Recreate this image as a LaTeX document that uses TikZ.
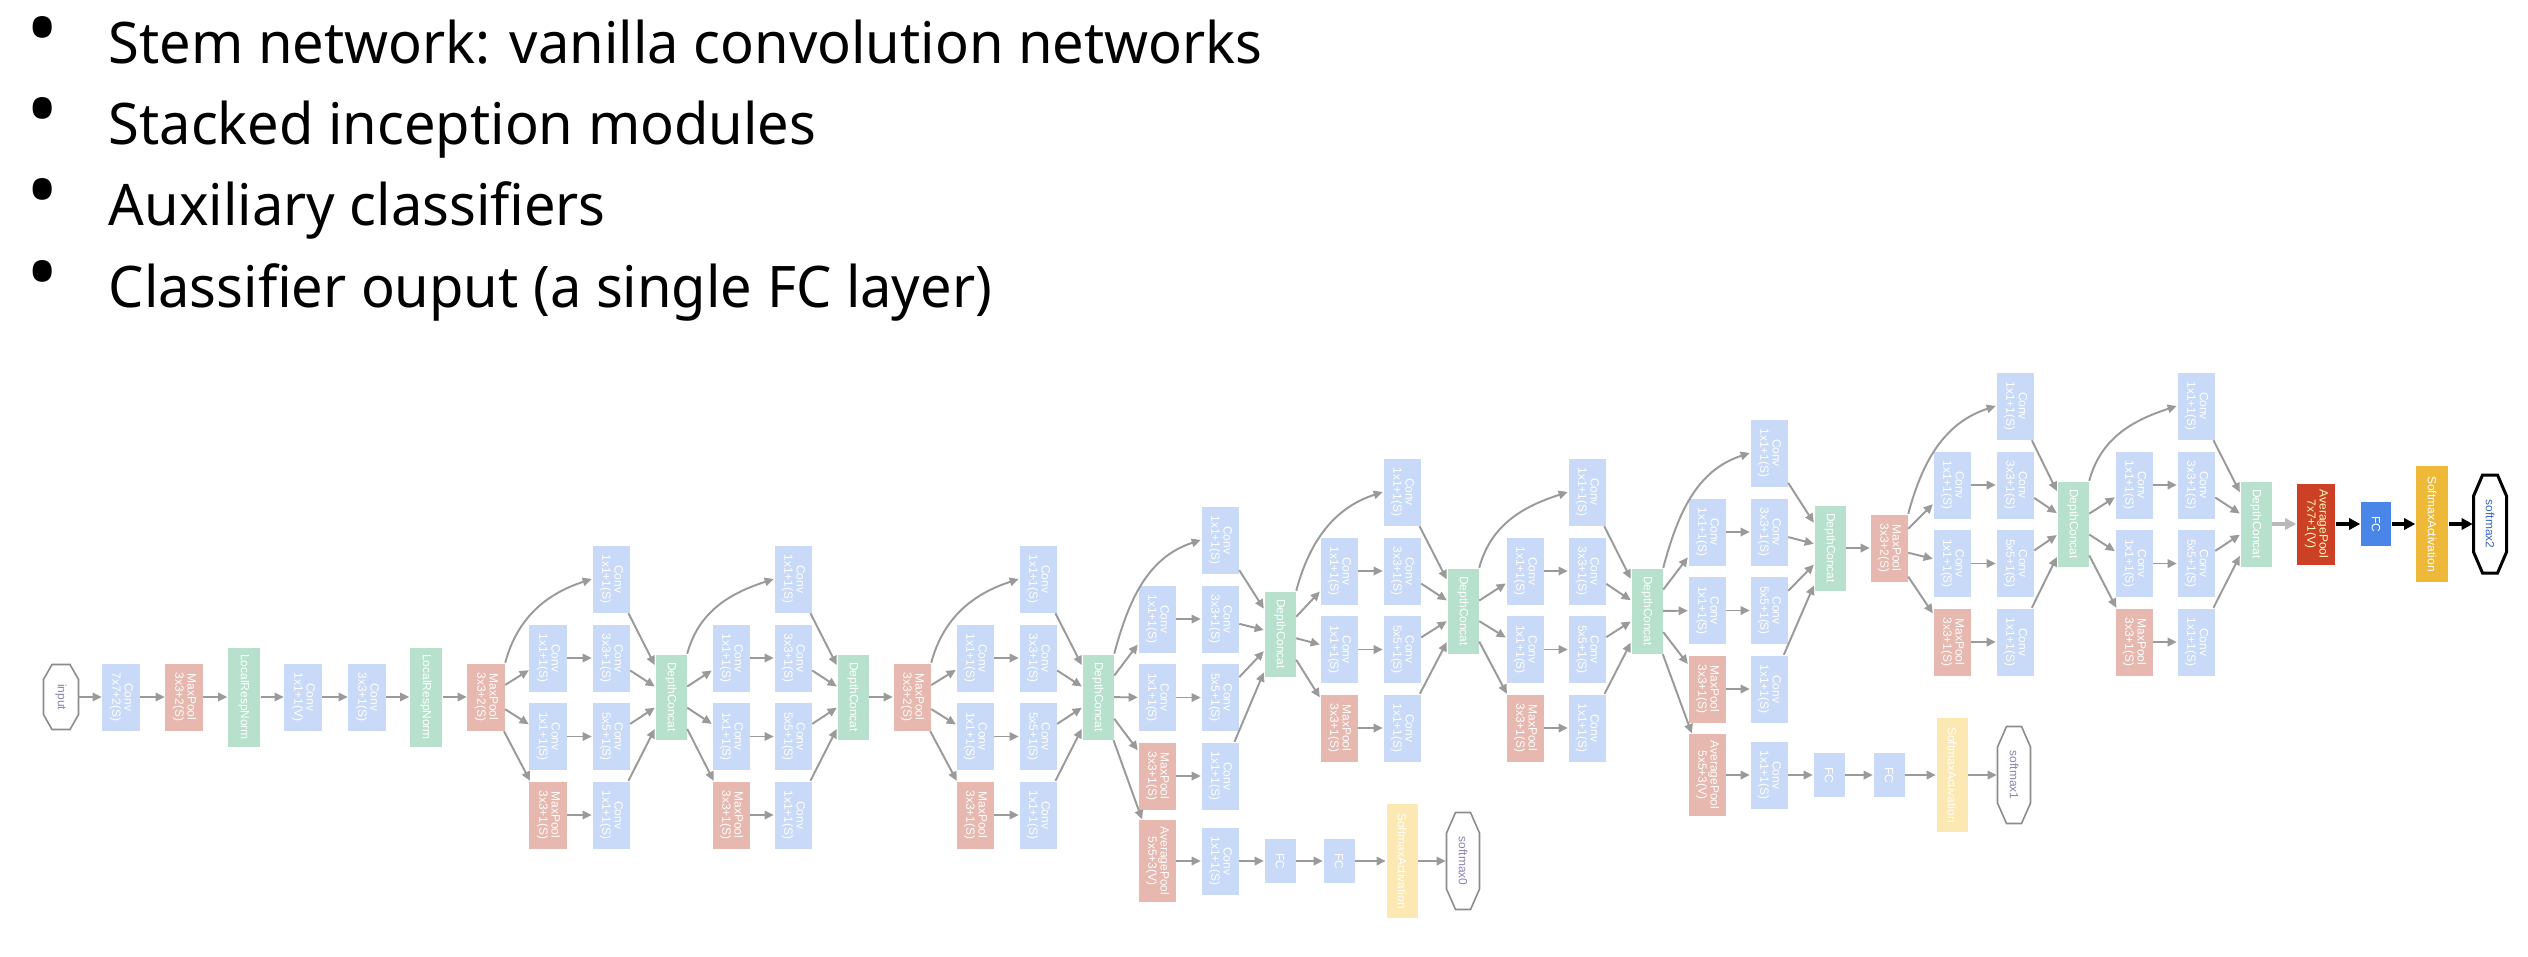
\documentclass[tikz,border=0pt]{standalone}
\usepackage{fontspec}
\usepackage{graphicx}
\setmainfont{Noto Sans}
\newfontfamily\titlefont[FakeStretch=0.977]{Noto Sans}
\newfontfamily\lblfont{Liberation Sans}
\usetikzlibrary{arrows.meta}
\definecolor{cblue}{HTML}{C9DAF8}
\definecolor{cred}{HTML}{E6B8AF}
\definecolor{cgreen}{HTML}{B7E1CD}
\definecolor{cyellow}{HTML}{FCE8B2}
\definecolor{dred}{HTML}{CC4125}
\definecolor{dblue}{HTML}{4A86E8}
\definecolor{dyellow}{HTML}{EEB838}
\definecolor{egray}{HTML}{9A9A9A}
\definecolor{octgray}{HTML}{8C8C8C}
\definecolor{octtext}{HTML}{8F80B0}
\definecolor{octtextd}{HTML}{3A66C4}
\newcommand\bxfont{\lblfont\fontsize{3.4}{3.5}\selectfont}
\newcommand\lbl[2]{\rotatebox{-90}{\begin{tabular}{@{}c@{}}#1\\#2\end{tabular}}}
\newcommand\lbo[1]{\rotatebox{-90}{#1}}
\newcommand\octdraw[6]{\draw[#6,shift={(#1.center)}] ({-#4},{-#3}) -- ({#4},{-#3}) -- ({#2},{-#5}) -- ({#2},{#5}) -- ({#4},{#3}) -- ({-#4},{#3}) -- ({-#2},{#5}) -- ({-#2},{-#5}) -- cycle;}
% inception module: #1 prefix, #2 input node, #3 col1 x, #4 col2 x, #5 concat x, #6 concat y, #7 second row y
\newcommand\mkincep[7]{%
 \node[convb] (#1t) at ({#4},{#7-79}) {\lbl{Conv}{1x1+1(S)}};
 \node[convb] (#1a) at ({#3},{#7}) {\lbl{Conv}{1x1+1(S)}};
 \node[convb] (#1b) at ({#4},{#7}) {\lbl{Conv}{3x3+1(S)}};
 \node[convb] (#1c) at ({#3},{#7+78.5}) {\lbl{Conv}{1x1+1(S)}};
 \node[convb] (#1d) at ({#4},{#7+78.5}) {\lbl{Conv}{5x5+1(S)}};
 \node[poolb] (#1e) at ({#3},{#7+157}) {\lbl{MaxPool}{3x3+1(S)}};
 \node[convb] (#1f) at ({#4},{#7+157}) {\lbl{Conv}{1x1+1(S)}};
 \node[dcb] (#1dc) at ({#5},{#6}) {\lbo{DepthConcat}};
 \draw[e] (#2.north east) to[out=75,in=198] (#1t.west);
 \draw[e] (#2) -- (#1a);
 \draw[e] (#2) -- (#1c);
 \draw[e] (#2) -- (#1e);
 \draw[e] (#1a) -- (#1b);
 \draw[e] (#1c) -- (#1d);
 \draw[e] (#1e) -- (#1f);
 \draw[e] (#1t) -- (#1dc);
 \draw[e] (#1b) -- (#1dc);
 \draw[e] (#1d) -- (#1dc);
 \draw[e] (#1f) -- (#1dc);
}
\begin{document}
\begin{tikzpicture}[x=0.01cm,y=-0.01cm,
  title/.style={font=\titlefont\fontsize{16.3}{19}\selectfont, inner sep=0pt, anchor=base west, text=black},
  bul/.style={font=\titlefont\fontsize{25}{25}\selectfont, inner sep=0pt, anchor=center, text=black},
  box/.style={inner sep=0pt, minimum width=0.37cm, minimum height=0.67cm, text=white, font=\bxfont},
  convb/.style={box, fill=cblue},
  poolb/.style={box, fill=cred},
  dcb/.style={box, fill=cgreen, minimum width=0.31cm, minimum height=0.85cm},
  lrnb/.style={box, fill=cgreen, minimum width=0.32cm, minimum height=0.99cm},
  avgb/.style={box, fill=cred, minimum height=0.82cm},
  fcb/.style={box, fill=cblue, minimum width=0.31cm, minimum height=0.44cm},
  smb/.style={box, fill=cyellow, minimum width=0.31cm, minimum height=1.14cm},
  avgd/.style={box, fill=dred, text=yellow!25, minimum width=0.38cm, minimum height=0.81cm},
  fcd/.style={box, fill=dblue, minimum width=0.30cm, minimum height=0.44cm},
  smd/.style={box, fill=dyellow, minimum width=0.32cm, minimum height=1.15cm},
  octin/.style={inner sep=0pt, minimum width=0.35cm, minimum height=0.65cm, font=\bxfont, text=octtext},
  octs/.style={inner sep=0pt, minimum width=0.33cm, minimum height=0.97cm, font=\bxfont, text=octtext},
  octf/.style={inner sep=0pt, minimum width=0.33cm, minimum height=0.98cm, font=\bxfont, text=octtextd},
  octl/.style={draw=octgray, line width=0.45pt},
  octlf/.style={draw=black, line width=0.85pt},
  e/.style={draw=egray, line width=0.55pt, -{Triangle[length=2.6pt,width=2.4pt]}},
  fe/.style={draw=black, line width=1.1pt, -{Triangle[length=3.2pt,width=3.2pt]}}
]
\fill[white] (0,0) rectangle (2528,956);
\useasboundingbox (0,0) rectangle (2528,956);

% bullet list
\node[bul] (b1) at (43,38) {•};
\node[title] (t1) at (108,63) {Stem network: vanilla convolution networks};
\node[bul] (b2) at (43,119) {•};
\node[title] (t2) at (108,144) {Stacked inception modules};
\node[bul] (b3) at (43,200) {•};
\node[title] (t3) at (108,225) {Auxiliary classifiers};
\node[bul] (b4) at (43,282) {•};
\node[title] (t4) at (108,307) {Classifier ouput (a single FC layer)};

% stem
\node[octin] (in) at (61,697) {\lbo{input}};
\octdraw{in}{17.5}{32.5}{9}{17.5}{octl}
\node[convb] (c1) at (121,697) {\lbl{Conv}{7x7+2(S)}};
\node[poolb] (p1) at (184,697) {\lbl{MaxPool}{3x3+2(S)}};
\node[lrnb] (n1) at (244,697) {\lbo{LocalRespNorm}};
\node[convb] (c2r) at (303,697) {\lbl{Conv}{1x1+1(V)}};
\node[convb] (c2) at (367,697) {\lbl{Conv}{3x3+1(S)}};
\node[lrnb] (n2) at (426,697) {\lbo{LocalRespNorm}};
\node[poolb] (p2) at (486,697) {\lbl{MaxPool}{3x3+2(S)}};
\draw[e] (in) -- (c1);
\draw[e] (c1) -- (p1);
\draw[e] (p1) -- (n1);
\draw[e] (n1) -- (c2r);
\draw[e] (c2r) -- (c2);
\draw[e] (c2) -- (n2);
\draw[e] (n2) -- (p2);

% inception 3a, 3b
\mkincep{ia}{p2}{548}{611}{671}{697}{658}
\mkincep{ib}{iadc}{731}{793}{853}{697}{658}
\node[poolb] (p3) at (912,697) {\lbl{MaxPool}{3x3+2(S)}};
\draw[e] (ibdc) -- (p3);

% inception 4a - 4e
\mkincep{ic}{p3}{975}{1038}{1098}{697}{658}
\mkincep{id}{icdc}{1157}{1220}{1280}{634}{619}

% auxiliary classifier 0
\node[avgb] (a0p) at (1157,861) {\lbl{AveragePool}{5x5+3(V)}};
\node[convb] (a0c) at (1220,861) {\lbl{Conv}{1x1+1(S)}};
\node[fcb] (a0f1) at (1280,861) {\lbo{FC}};
\node[fcb] (a0f2) at (1339,861) {\lbo{FC}};
\node[smb] (a0s) at (1402,861) {\lbo{SoftmaxActivation}};
\node[octs] (a0o) at (1463,861) {\lbo{softmax0}};
\octdraw{a0o}{16.5}{48.5}{7.5}{28}{octl}
\draw[e] (icdc) -- (a0p);
\draw[e] (a0p) -- (a0c);
\draw[e] (a0c) -- (a0f1);
\draw[e] (a0f1) -- (a0f2);
\draw[e] (a0f2) -- (a0s);
\draw[e] (a0s) -- (a0o);

\mkincep{ie}{iddc}{1339}{1402}{1463}{611}{571}
\mkincep{if}{iedc}{1525}{1587}{1647}{611}{571}
\mkincep{ig}{ifdc}{1707}{1769}{1830}{548}{532}

% auxiliary classifier 1
\node[avgb] (a1p) at (1707,775) {\lbl{AveragePool}{5x5+3(V)}};
\node[convb] (a1c) at (1769,775) {\lbl{Conv}{1x1+1(S)}};
\node[fcb] (a1f1) at (1829,775) {\lbo{FC}};
\node[fcb] (a1f2) at (1889,775) {\lbo{FC}};
\node[smb] (a1s) at (1952,775) {\lbo{SoftmaxActivation}};
\node[octs] (a1o) at (2014,775) {\lbo{softmax1}};
\octdraw{a1o}{16.5}{48.5}{7.5}{28}{octl}
\draw[e] (ifdc) -- (a1p);
\draw[e] (a1p) -- (a1c);
\draw[e] (a1c) -- (a1f1);
\draw[e] (a1f1) -- (a1f2);
\draw[e] (a1f2) -- (a1s);
\draw[e] (a1s) -- (a1o);

\node[poolb] (p4) at (1889,548) {\lbl{MaxPool}{3x3+2(S)}};
\draw[e] (igdc) -- (p4);

% inception 5a, 5b
\mkincep{ih}{p4}{1952}{2015}{2073}{524}{485}
\mkincep{ii}{ihdc}{2134}{2196}{2256}{524}{485}

% classifier output
\node[avgd] (fp) at (2316,524) {\lbl{AveragePool}{7x7+1(V)}};
\node[fcd] (ff) at (2376,524) {\lbo{FC}};
\node[smd] (fs) at (2432,524) {\lbo{SoftmaxActivation}};
\node[octf] (fo) at (2490,524) {\lbo{softmax2}};
\octdraw{fo}{16.5}{49}{7.5}{28}{octlf}
\draw[fe, draw=gray!55] (iidc) -- (fp);
\draw[fe] (fp) -- (ff);
\draw[fe] (ff) -- (fs);
\draw[fe] (fs) -- (fo);
\end{tikzpicture}
\end{document}
